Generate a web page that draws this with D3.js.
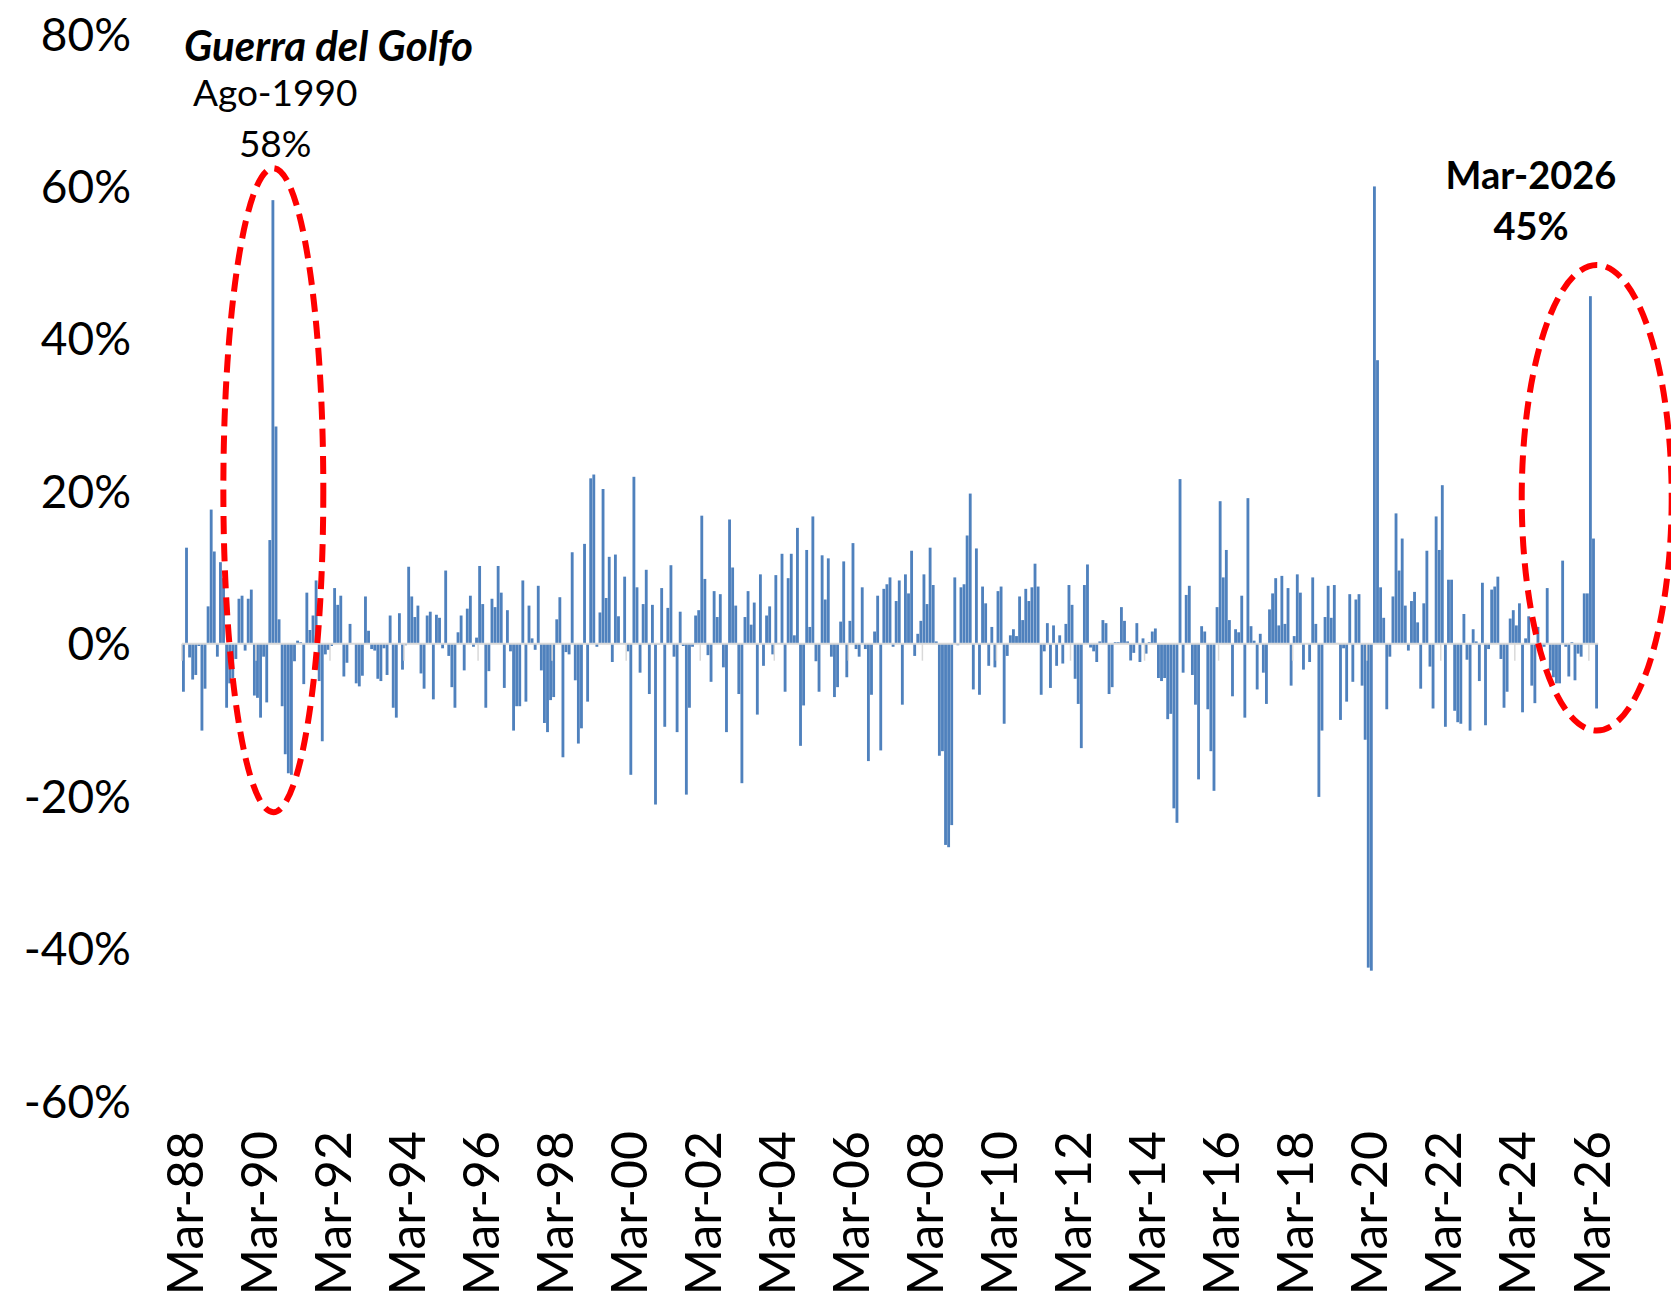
<!DOCTYPE html>
<html>
<head>
<meta charset="utf-8">
<script src="https://cdn.jsdelivr.net/npm/d3@7"></script>
<style>
  body { margin: 0; background: #fff; }
  .tickText { font-family: Lato, "Open Sans", sans-serif; fill: #000; }
</style>
</head>
<body>
<div id="chart"></div>
<script>
var svgWidth = 1671;
var svgHeight = 1295;

// monthly % change, Mar-88 .. May-26
var primerMes = new Date(1988, 2, 1);
var variacion = [
  -6.3, 12.6, -1.8, -4.7, -4.1, -0.3, -11.4, -5.9, 4.9, 17.6, 12.1, -1.7,
  10.7, 8.6, -8.4, -5.2, -4.5, -2.0, 5.9, 6.3, -0.9, 5.9, 7.1, -6.8,
  -7.1, -9.7, -1.7, -7.7, 13.6, 58.2, 28.5, 3.2, -8.2, -14.5, -17.0, -17.2,
  -2.3, 0.4, 0.2, -5.3, 6.7, 1.8, 3.7, 8.3, -4.9, -12.8, -1.4, -0.8,
  -0.3, 7.3, 5.1, 6.3, -4.3, -2.5, 2.6, 0.0, -5.2, -5.6, -4.2, 6.2,
  1.7, -0.7, -0.9, -4.6, -4.9, -0.6, -4.1, 3.7, -8.4, -9.7, 4.0, -3.4,
  -0.2, 10.1, 6.2, 3.5, 5.0, -3.9, -5.9, 3.7, 4.2, -7.3, 3.8, 3.4,
  -0.6, 9.6, -1.6, -5.7, -8.4, 1.5, 3.7, -3.5, 4.6, 6.3, -0.4, 0.8,
  10.2, 5.2, -8.4, -3.6, 5.9, 4.8, 10.2, 6.7, -5.8, 4.4, -1.0, -11.4,
  -8.2, -8.2, 8.3, -7.6, 5.0, 0.7, -0.8, 7.6, -3.5, -10.4, -11.6, -7.4,
  -7.0, 3.2, 6.1, -14.9, -1.1, -1.4, 12.0, -4.8, -13.1, -11.1, 13.1, -7.6,
  21.7, 22.2, -0.4, 4.1, 20.3, 6.0, 11.4, -2.4, 11.7, 3.6, 0.0, 8.8,
  -1.0, -17.2, 21.9, 7.4, -3.8, 5.2, 9.7, -6.6, 5.1, -21.1, -0.1, 7.3,
  -10.9, 4.7, 10.3, -1.7, -11.6, 4.2, -0.3, -19.8, -8.4, -0.4, 3.7, 4.4,
  16.8, 8.5, -1.5, -5.0, 6.9, 3.5, 6.5, -3.1, -11.6, 16.3, 10.0, 5.0,
  -6.6, -18.3, 3.5, 6.9, 2.5, 5.4, -9.3, 9.1, -2.9, 3.7, 4.9, -1.4,
  9.0, 0.1, 11.8, -6.3, 8.6, 11.8, 1.1, 15.2, -13.4, -8.1, 12.3, 2.2,
  16.7, -2.3, -6.3, 11.6, 5.8, 11.2, -1.7, -7.0, -5.7, 2.9, 10.8, -4.4,
  3.0, 13.2, -0.7, -1.7, 7.4, -0.7, -15.4, -6.7, 1.6, 6.3, -14.0, 7.2,
  7.8, 8.7, -0.4, 5.6, 8.3, -8.0, 9.1, 6.6, 12.2, -1.6, 1.3, 3.0,
  9.1, 5.2, 12.6, 7.7, 0.3, -14.7, -14.1, -26.4, -26.7, -23.8, 8.7, -0.2,
  7.4, 7.8, 14.2, 19.7, -6.0, 12.5, -6.7, 7.5, 5.3, -2.9, 2.2, -3.1,
  6.9, 7.5, -10.5, -1.6, 1.1, 1.9, 1.0, 6.2, 3.1, 7.2, 5.6, 7.4,
  10.5, 7.5, -6.7, -1.0, 2.7, -5.8, 2.4, -2.9, 1.1, -2.6, 2.6, 7.7,
  5.1, -4.6, -7.9, -13.7, 7.7, 10.4, -0.5, -1.0, -2.4, 0.3, 3.1, 2.7,
  -6.6, -5.7, 0.2, 0.2, 4.8, 3.0, 0.3, -2.2, -1.2, 2.7, -2.4, 0.7,
  -1.3, 0.2, 1.6, 2.0, -4.5, -4.9, -4.5, -9.9, -9.2, -21.6, -23.5, 21.6,
  -3.8, 6.4, 7.6, -4.1, -8.0, -17.8, 2.3, 1.6, -8.6, -14.1, -19.3, 4.8,
  18.7, 8.7, 12.3, 3.1, -6.9, 1.9, 1.5, 6.3, -9.7, 19.1, 2.3, 0.4,
  -6.0, 1.3, -3.8, -7.9, 4.5, 6.6, 8.6, 2.4, 8.9, 2.6, 7.3, -5.5,
  1.0, 9.1, 6.7, -3.4, 0.0, -2.4, 8.7, 2.6, -20.1, -11.4, 3.5, 7.6,
  3.4, 7.7, 0.1, -10.0, -0.6, -7.6, 6.5, -5.0, 5.8, 6.5, -5.5, -12.6,
  -42.5, -42.9, 60.0, 37.2, 7.4, 3.4, -8.6, -1.7, 6.2, 17.1, 9.6, 13.8,
  5.0, -0.9, 5.6, 6.8, 2.8, -5.9, 5.3, 12.2, -3.0, -8.5, 16.7, 12.3,
  20.8, -10.9, 8.4, 8.4, -8.8, -10.3, -10.5, 3.9, -2.1, -11.4, 1.9, 0.3,
  -4.9, 8.0, -10.7, -0.7, 7.1, 7.5, 8.8, -2.0, -8.4, -6.3, 3.3, 4.4,
  2.4, 5.3, -9.0, 0.7, 3.6, -5.5, -7.8, 2.2, -2.0, -0.4, 7.3, -3.5,
  -4.4, -5.2, -5.2, 10.9, -0.4, -4.3, 0.2, -4.8, -1.3, -1.7, 6.6, 6.6,
  45.6, 13.8, -8.5
];

var yTicks = [-0.6, -0.4, -0.2, 0, 0.2, 0.4, 0.6, 0.8];
var xEtiquetas = ["Mar-88", "Mar-90", "Mar-92", "Mar-94", "Mar-96", "Mar-98", "Mar-00",
  "Mar-02", "Mar-04", "Mar-06", "Mar-08", "Mar-10", "Mar-12", "Mar-14", "Mar-16",
  "Mar-18", "Mar-20", "Mar-22", "Mar-24", "Mar-26"];

// highlighted episodes: month index of the peak, and ellipse bounds (share of 1)
var episodioMes = [29, 456];
var episodioTexto = [["Guerra del Golfo", "Ago-1990", "58%"], ["Mar-2026", "45%"]];
var elipseArriba = [0.624, 0.497];
var elipseAbajo = [-0.221, -0.114];

var meses = d3.timeMonth.range(primerMes, d3.timeMonth.offset(primerMes, variacion.length));
var datos = meses.map(function(m, i) { return { mes: i, fecha: m, valor: variacion[i] / 100 }; });

var svg = d3.select("#chart")
    .append("svg")
    .attr("width", svgWidth)
    .attr("height", svgHeight);

var xBand = d3.scaleBand()
    .domain(d3.range(datos.length))
    .range([182, 1598])
    .paddingInner(0.08)
    .paddingOuter(0);

var yLinearScale = d3.scaleLinear()
    .domain([-0.6, 0.8])
    .range([1101, 34]);

var paso = xBand.step();

// bars
svg.append("g").selectAll("rect")
    .data(datos)
    .enter()
    .append("rect")
    .attr("x", d => xBand(d.mes))
    .attr("width", xBand.bandwidth())
    .attr("y", d => yLinearScale(Math.max(0, d.valor)))
    .attr("height", d => Math.abs(yLinearScale(d.valor) - yLinearScale(0)))
    .attr("fill", "#4f81bd");

// zero axis line with tick marks every 24 months
var ejeX = svg.append("g");
ejeX.append("line")
    .attr("x1", xBand(0))
    .attr("x2", xBand(datos.length - 1) + paso)
    .attr("y1", yLinearScale(0))
    .attr("y2", yLinearScale(0))
    .attr("stroke", "#d9d9d9")
    .attr("stroke-width", 2);

ejeX.selectAll(".marca")
    .data(xEtiquetas)
    .enter()
    .append("line")
    .attr("class", "marca")
    .attr("x1", (d, i) => xBand(i * 24) - paso * 0.04)
    .attr("x2", (d, i) => xBand(i * 24) - paso * 0.04)
    .attr("y1", yLinearScale(0))
    .attr("y2", yLinearScale(0) + 17)
    .attr("stroke", "#d9d9d9")
    .attr("stroke-width", 1.5);

// x labels at the bottom, rotated
svg.append("g").selectAll("text")
    .data(xEtiquetas)
    .enter()
    .append("text")
    .attr("class", "tickText")
    .attr("transform", (d, i) => `translate(${xBand(i * 24) + paso / 2}, 1131) rotate(-90)`)
    .attr("text-anchor", "end")
    .attr("dominant-baseline", "central")
    .attr("font-size", "50px")
    .text(d => d);

// y axis labels
var leftAxis = d3.axisLeft(yLinearScale)
    .tickValues(yTicks)
    .tickSize(0)
    .tickPadding(0)
    .tickFormat(d => Math.round(d * 100) + "%");

var ejeY = svg.append("g")
    .attr("transform", "translate(131, 0)")
    .call(leftAxis);
ejeY.select(".domain").remove();
ejeY.selectAll("text")
    .attr("class", "tickText")
    .attr("font-size", "46px")
    .attr("dy", "0.35em");

// dashed ellipses
svg.append("g").selectAll("ellipse")
    .data(episodioMes)
    .enter()
    .append("ellipse")
    .attr("cx", (d, i) => i === 0 ? xBand(d) + paso * 0.6 : xBand(d) + paso * 2.5)
    .attr("cy", (d, i) => (yLinearScale(elipseArriba[i]) + yLinearScale(elipseAbajo[i])) / 2)
    .attr("rx", (d, i) => i === 0 ? paso * 16.2 : paso * 24.3)
    .attr("ry", (d, i) => (yLinearScale(elipseAbajo[i]) - yLinearScale(elipseArriba[i])) / 2)
    .attr("fill", "none")
    .attr("stroke", "#ff0000")
    .attr("stroke-width", 6)
    .attr("stroke-dasharray", "18 9");

// annotation texts
var nota1 = svg.append("g").attr("class", "tickText");
nota1.append("text")
    .attr("x", 184)
    .attr("y", 46)
    .attr("dy", "0.35em")
    .attr("font-size", "42px")
    .attr("font-weight", "bold")
    .attr("font-style", "italic")
    .text(episodioTexto[0][0]);
nota1.append("text")
    .attr("x", xBand(episodioMes[0]) + paso * 1.2)
    .attr("y", 93)
    .attr("dy", "0.35em")
    .attr("text-anchor", "middle")
    .attr("font-size", "37px")
    .text(episodioTexto[0][1]);
nota1.append("text")
    .attr("x", xBand(episodioMes[0]) + paso * 1.2)
    .attr("y", 144)
    .attr("dy", "0.35em")
    .attr("text-anchor", "middle")
    .attr("font-size", "37px")
    .text(episodioTexto[0][2]);

var nota2 = svg.append("g").attr("class", "tickText");
nota2.selectAll("text")
    .data(episodioTexto[1])
    .enter()
    .append("text")
    .attr("x", 1531)
    .attr("y", (d, i) => 176 + i * 51)
    .attr("dy", "0.35em")
    .attr("text-anchor", "middle")
    .attr("font-size", "38px")
    .attr("font-weight", "bold")
    .text(d => d);
</script>
</body>
</html>
